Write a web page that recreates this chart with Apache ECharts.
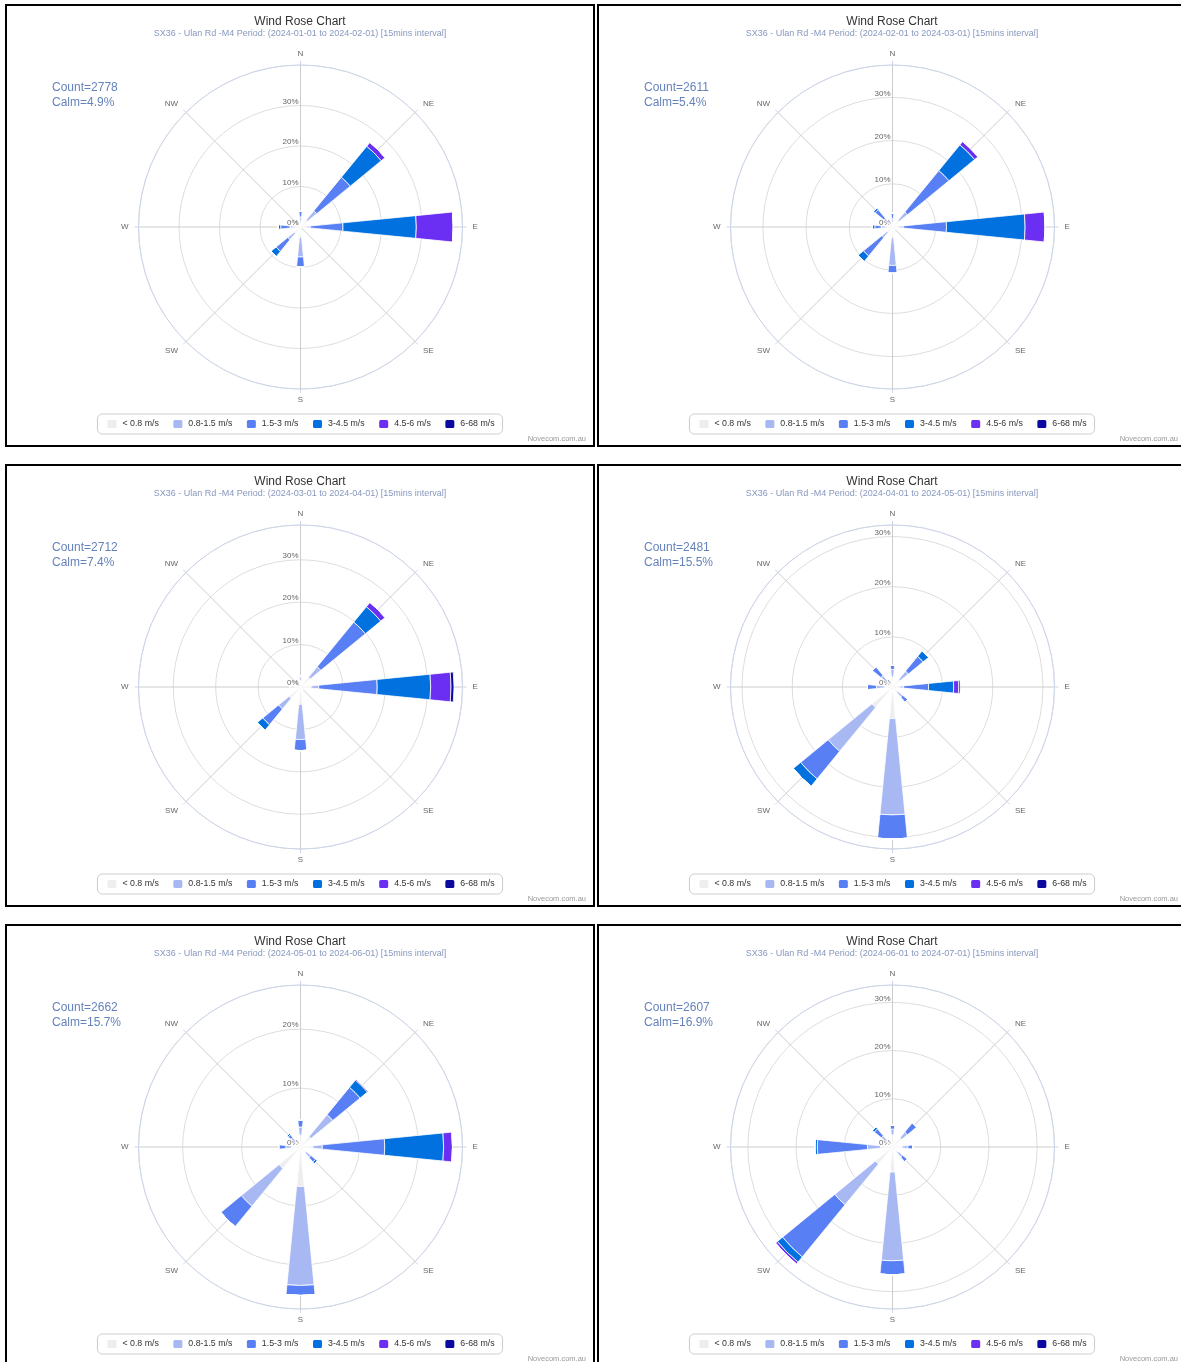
<!DOCTYPE html>
<html>
<head>
<meta charset="utf-8">
<script src="https://cdn.jsdelivr.net/npm/echarts@6/dist/echarts.min.js"></script>
<style>
  html, body { margin: 0; padding: 0; background: #fff; }
  body { width: 1181px; height: 1362px; position: relative; overflow: hidden; }
  .panel { position: absolute; width: 590px; height: 443px; border: 2px solid #000; box-sizing: border-box; background: #fff; }
</style>
</head>
<body>
<div id="p0" class="panel" style="left:5px;top:4px"></div>
<div id="p1" class="panel" style="left:597px;top:4px"></div>
<div id="p2" class="panel" style="left:5px;top:464px"></div>
<div id="p3" class="panel" style="left:597px;top:464px"></div>
<div id="p4" class="panel" style="left:5px;top:924px"></div>
<div id="p5" class="panel" style="left:597px;top:924px"></div>
<script>
// ---- Data ----
const directions = ['N', 'NE', 'E', 'SE', 'S', 'SW', 'W', 'NW'];
const speedBins = ['< 0.8 m/s', '0.8-1.5 m/s', '1.5-3 m/s', '3-4.5 m/s', '4.5-6 m/s', '6-68 m/s'];
const periods = [
  '(2024-01-01 to 2024-02-01)', '(2024-02-01 to 2024-03-01)', '(2024-03-01 to 2024-04-01)',
  '(2024-04-01 to 2024-05-01)', '(2024-05-01 to 2024-06-01)', '(2024-06-01 to 2024-07-01)'
];
const counts = [2778, 2611, 2712, 2481, 2662, 2607];
const calms = [4.9, 5.4, 7.4, 15.5, 15.7, 16.9];
const radiusMax = [40, 37.5, 38.2, 32.3, 27.5, 33.6];

// Frequency (%) per speed bin (rows) and direction (N, NE, E, SE, S, SW, W, NW)
const janData = [
  [1.2, 2.2, 1.2, 0.3, 2.5, 2.0, 1.3, 0.5],
  [1.3, 3.0, 1.2, 0.0, 4.9, 2.1, 1.3, 0.0],
  [1.4, 10.7, 8.1, 0.0, 2.5, 3.7, 2.3, 0.0],
  [0.0, 9.9, 18.1, 0.0, 0.0, 1.6, 0.6, 0.0],
  [0.0, 1.2, 9.1, 0.0, 0.0, 0.0, 0.0, 0.0],
  [0.0, 0.0, 0.0, 0.0, 0.0, 0.0, 0.0, 0.0]
];
const febData = [
  [1.0, 2.0, 1.3, 0.5, 2.5, 1.6, 1.3, 1.3],
  [1.0, 2.5, 1.2, 0.3, 6.4, 1.6, 1.3, 1.3],
  [1.2, 12.4, 10.0, 0.0, 1.8, 5.5, 1.5, 2.6],
  [0.0, 7.7, 18.2, 0.0, 0.0, 1.6, 0.6, 0.5],
  [0.0, 1.0, 4.6, 0.0, 0.0, 0.0, 0.0, 0.0],
  [0.0, 0.0, 0.0, 0.0, 0.0, 0.0, 0.0, 0.0]
];
const marData = [
  [1.5, 3.0, 2.5, 0.8, 4.1, 3.5, 1.5, 0.3],
  [0.8, 3.2, 1.8, 0.0, 8.3, 3.2, 0.6, 0.0],
  [0.3, 13.6, 13.8, 0.0, 2.6, 4.8, 0.3, 0.0],
  [0.0, 4.7, 12.6, 0.0, 0.0, 1.7, 0.0, 0.0],
  [0.0, 1.3, 4.8, 0.0, 0.0, 0.0, 0.0, 0.0],
  [0.0, 0.0, 0.7, 0.0, 0.0, 0.0, 0.0, 0.0]
];
const aprData = [
  [2.0, 2.0, 1.2, 1.3, 6.3, 5.3, 1.5, 1.5],
  [1.5, 2.1, 1.0, 1.3, 19.2, 11.3, 1.7, 1.5],
  [0.8, 3.8, 5.0, 1.3, 4.8, 7.1, 1.8, 2.2],
  [0.0, 1.4, 5.0, 0.0, 0.0, 1.9, 0.0, 0.0],
  [0.0, 0.0, 1.0, 0.0, 0.0, 0.0, 0.0, 0.0],
  [0.0, 0.0, 0.3, 0.0, 0.0, 0.0, 0.0, 0.0]
];
const mayData = [
  [2.0, 2.3, 2.1, 1.3, 6.7, 4.7, 1.5, 1.3],
  [1.4, 4.8, 1.6, 1.0, 16.8, 8.3, 1.0, 0.8],
  [1.2, 6.0, 10.6, 1.0, 1.7, 4.5, 1.2, 0.6],
  [0.0, 1.6, 10.0, 0.4, 0.0, 0.0, 0.0, 0.3],
  [0.0, 0.2, 1.5, 0.0, 0.0, 0.0, 0.0, 0.0],
  [0.0, 0.0, 0.0, 0.0, 0.0, 0.0, 0.0, 0.0]
];
const junData = [
  [2.5, 2.5, 2.0, 1.5, 5.2, 4.6, 2.5, 1.8],
  [1.2, 1.5, 1.2, 1.2, 18.4, 10.9, 2.7, 1.2],
  [0.8, 2.5, 1.0, 1.3, 2.9, 14.0, 10.4, 1.9],
  [0.0, 0.0, 0.0, 0.0, 0.0, 1.4, 0.5, 0.5],
  [0.0, 0.0, 0.0, 0.0, 0.0, 0.5, 0.0, 0.0],
  [0.0, 0.0, 0.0, 0.0, 0.0, 0.0, 0.0, 0.0]
];
const panelData = [janData, febData, marData, aprData, mayData, junData];

// ---- Style ----
const binColors = ['#eeeeee', '#a7b8f3', '#587ff3', '#0071de', '#6b2ff4', '#0c0a9e'];
const FONT = "'Liberation Sans', Arial, sans-serif";
const CX = 293.5, CY = 221, R = 162;

function buildOption(i) {
  const series = speedBins.map((name, b) => ({
    type: 'bar',
    name: name,
    coordinateSystem: 'polar',
    polarIndex: 1,
    stack: 'wind',
    barCategoryGap: '75%',
    data: panelData[i][b],
    itemStyle: { color: binColors[b], borderColor: '#ffffff', borderWidth: 0.8 },
    emphasis: { disabled: true },
    z: 3
  }));
  return {
    animation: false,
    textStyle: { fontFamily: FONT },
    title: [
      { text: 'Wind Rose Chart', left: 'center', top: 5,
        textStyle: { fontSize: 12, fontWeight: 'normal', color: '#333333', fontFamily: FONT } },
      { text: 'SX36 - Ulan Rd -M4 Period: ' + periods[i] + ' [15mins interval]', left: 'center', top: 18.5,
        textStyle: { fontSize: 9, fontWeight: 'normal', color: '#8797bd', fontFamily: FONT } }
    ],
    legend: {
      data: speedBins,
      left: 'center',
      bottom: 11,
      orient: 'horizontal',
      icon: 'roundRect',
      itemWidth: 11,
      itemHeight: 10,
      itemGap: 12.5,
      padding: [4, 8, 4, 8],
      borderColor: '#cccccc',
      borderWidth: 1,
      borderRadius: 5,
      selectedMode: false,
      textStyle: { fontSize: 8.8, color: '#333333', fontFamily: FONT }
    },
    polar: [
      { center: [CX, CY], radius: R },
      { center: [CX, CY], radius: R }
    ],
    angleAxis: [
      {
        polarIndex: 0,
        type: 'value',
        min: 0, max: 360, interval: 45,
        startAngle: 90,
        clockwise: true,
        axisLine: { show: true, lineStyle: { color: '#ccd6eb', width: 1 } },
        axisTick: { show: true, length: 4, lineStyle: { color: '#ccd6eb' } },
        axisLabel: { show: true, fontSize: 8, color: '#666666', margin: 7, padding: [0, 3, 0, 3],
          fontFamily: FONT,
          formatter: (v) => (v < 360 ? directions[Math.round(v / 45)] : '') },
        splitLine: { show: true, lineStyle: { color: '#cccccc', width: 1 } }
      },
      {
        polarIndex: 1,
        type: 'category',
        data: directions,
        boundaryGap: true,
        startAngle: 90 + 22.5,
        clockwise: true,
        axisLine: { show: false }, axisTick: { show: false },
        axisLabel: { show: false }, splitLine: { show: false }
      }
    ],
    radiusAxis: [
      {
        polarIndex: 0,
        type: 'value',
        min: 0, max: radiusMax[i], interval: 10,
        axisLine: { show: false },
        axisTick: { show: false },
        axisLabel: {
          show: true, fontSize: 8, color: '#666666', fontFamily: FONT, margin: 2,
          showMaxLabel: false, verticalAlign: 'bottom',
          formatter: (v) => (v % 10 === 0 ? v + '%' : '')
        },
        splitLine: { show: true, lineStyle: { color: '#dddddd', width: 1 } }
      },
      {
        polarIndex: 1,
        type: 'value',
        min: 0, max: radiusMax[i],
        axisLine: { show: false }, axisTick: { show: false },
        axisLabel: { show: false }, splitLine: { show: false }
      }
    ],
    series: series,
    graphic: [
      { type: 'text', left: 45, top: 76, silent: true,
        style: { text: 'Count=' + counts[i], font: '12px ' + FONT, fill: '#6583bb' } },
      { type: 'text', left: 45, top: 91, silent: true,
        style: { text: 'Calm=' + calms[i] + '%', font: '12px ' + FONT, fill: '#6583bb' } },
      { type: 'text', right: 7, bottom: 2, silent: true,
        style: { text: 'Novecom.com.au', font: '7.5px ' + FONT, fill: '#999999' } }
    ]
  };
}

for (let i = 0; i < 6; i++) {
  const chart = echarts.init(document.getElementById('p' + i), null, { renderer: 'canvas' });
  chart.setOption(buildOption(i));
}
</script>
</body>
</html>
